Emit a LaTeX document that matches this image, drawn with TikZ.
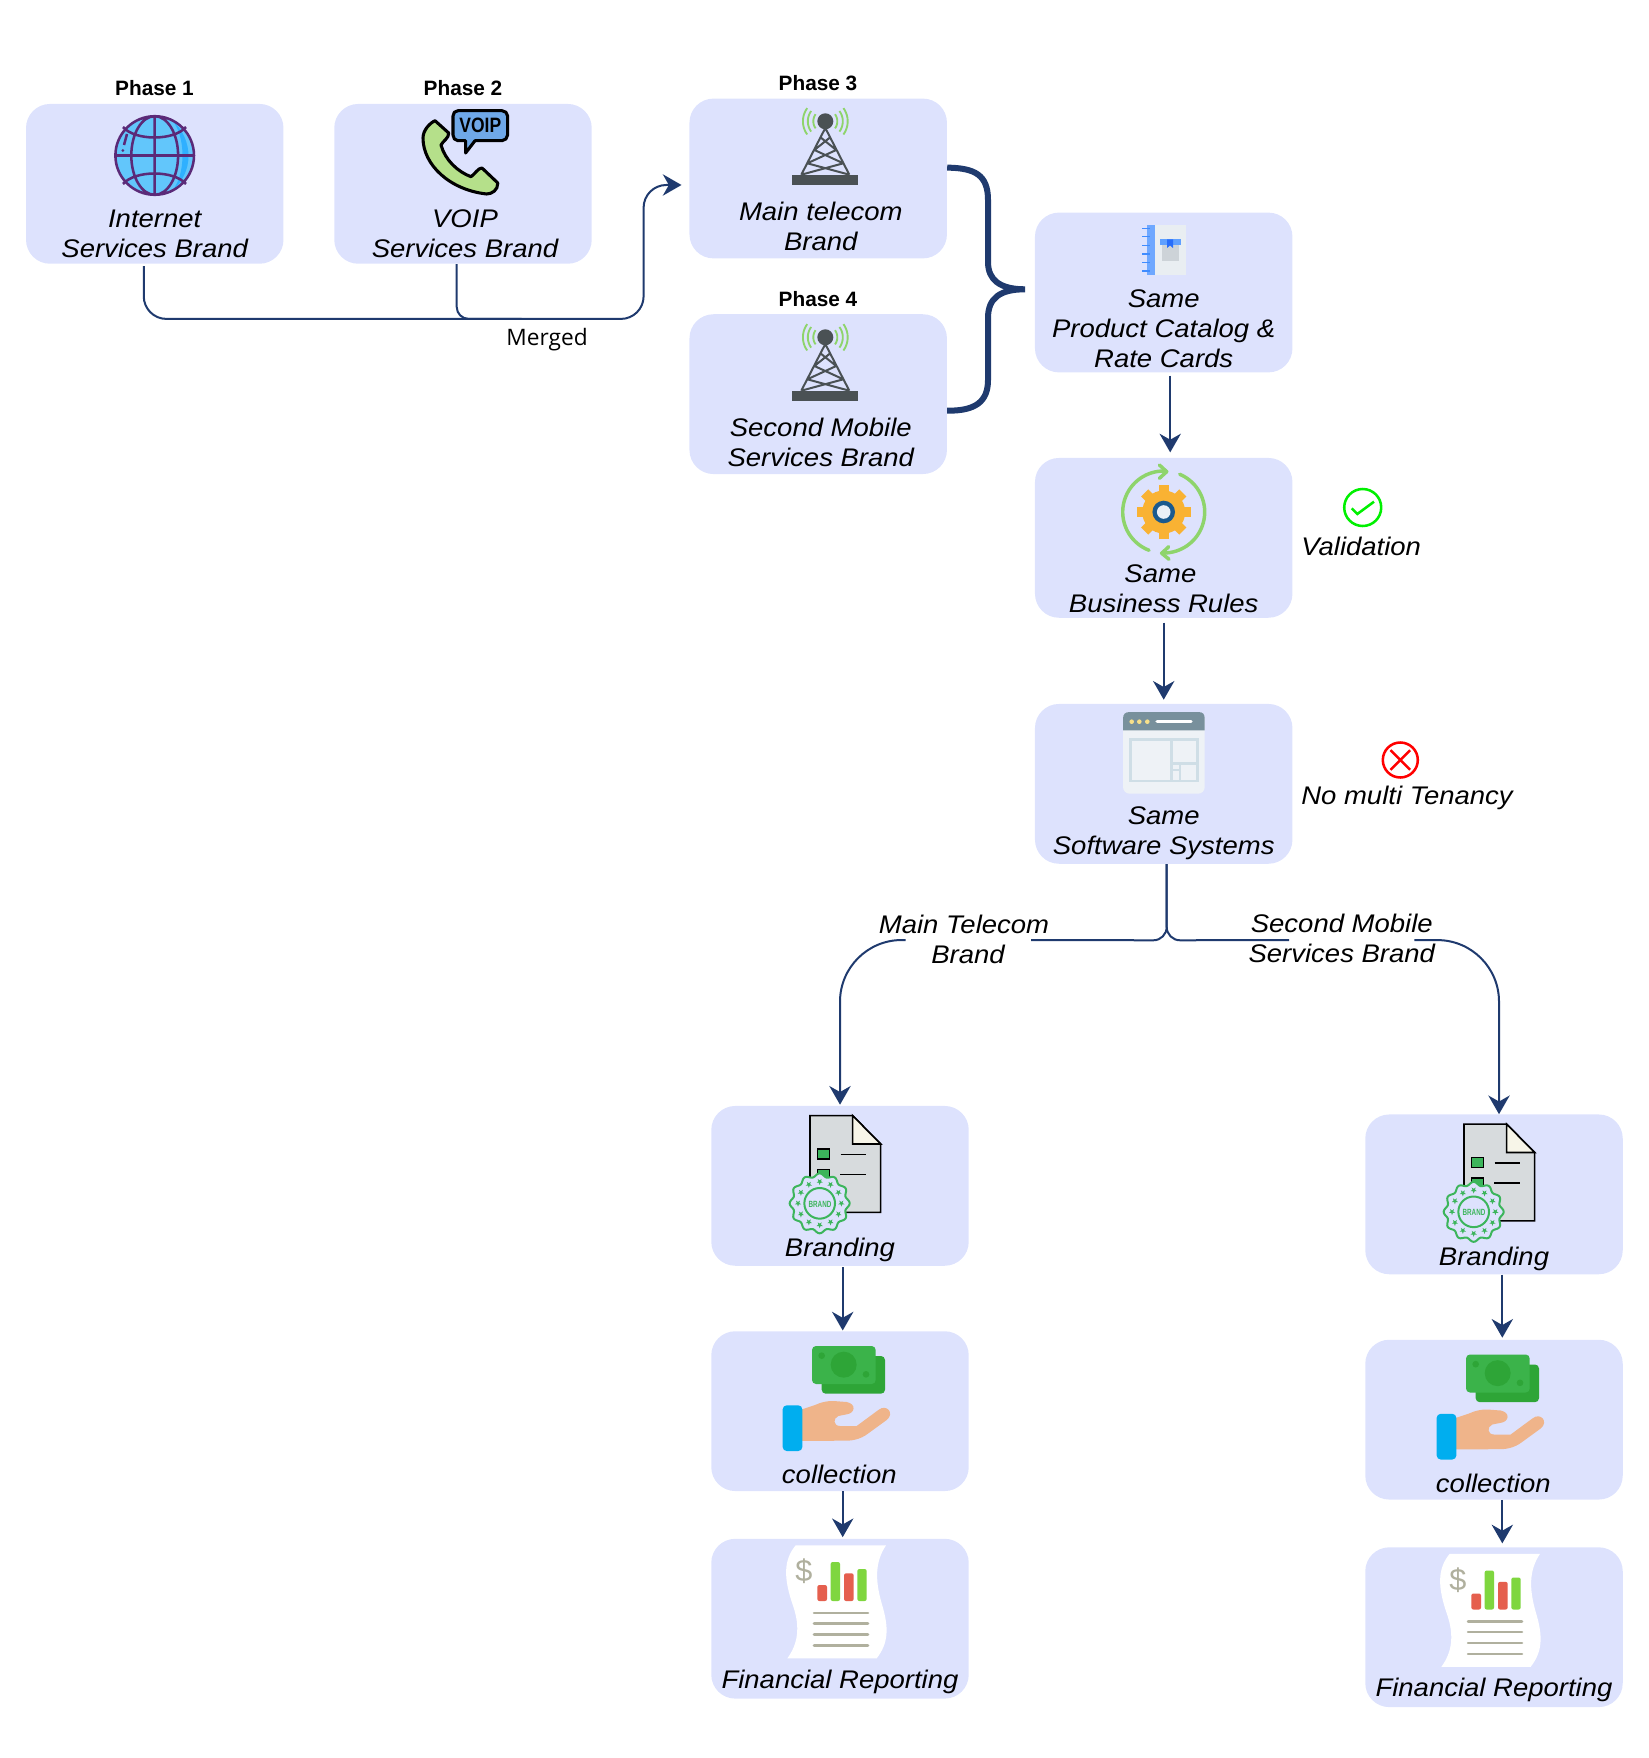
\documentclass[tikz,border=0pt]{standalone}
\usepackage{fontspec}
\usetikzlibrary{calc,arrows.meta}
\setmainfont{Liberation Sans}[FakeStretch=1.08]
\newfontfamily\phasef{Liberation Sans}
\newfontfamily\mergef{Open Sans}
\newfontfamily\brandf{Liberation Sans}[FakeStretch=0.7]
\newfontfamily\voipf{Liberation Sans}[FakeStretch=0.84]
\definecolor{boxc}{HTML}{DDE2FD}
\definecolor{linec}{HTML}{1F3A6E}
\definecolor{towerc}{HTML}{4A5154}
\definecolor{sigc}{HTML}{8ED46B}
\definecolor{stampc}{HTML}{3CB55B}
\definecolor{greyc}{HTML}{B0B09E}
\tikzset{
 box/.style={fill=boxc,rounded corners=18pt,minimum width=193.1pt,minimum height=119.85pt,inner sep=0pt},
 lab/.style={align=center,inner sep=0pt,font=\fontsize{19.1}{22.5}\selectfont\itshape,text=black},
 phase/.style={inner sep=0pt,font=\fontsize{15.6}{18}\phasef\bfseries},
 conn/.style={draw=linec,line width=1.5pt},
 arr/.style={conn,-{Stealth[length=14pt,width=16pt,inset=4.5pt]}},
 brace/.style={draw=linec,line width=4.5pt},
}
\newcommand\towericon[2]{%
 \begin{scope}[shift={(#1,#2)}]
  \fill[towerc] (-33,174.7) rectangle (33,185.3);
  \draw[towerc,line width=1.5pt] (0,128)--(-24,174.7) (0,128)--(24,174.7)
   (-4.4,137.7)--(10.9,150) (4.4,137.7)--(-10.9,150)
   (-10.9,150)--(18,163.3) (10.9,150)--(-18,163.3)
   (-18,163.3)--(24,174.7) (18,163.3)--(-24,174.7);
  \fill[towerc] (0,121.3) circle (8);
  \foreach \r in {12,17.5,22.4}{
   \draw[sigc,line width=1.4pt,domain=-36:36,samples=12] plot ({\r*cos(\x)},{121.3+\r*sin(\x)});
   \draw[sigc,line width=1.4pt,domain=144:216,samples=12] plot ({\r*cos(\x)},{121.3+\r*sin(\x)});
  }
 \end{scope}}
\newcommand\brandicon[3]{%
 \begin{scope}[shift={(#1,#2)},scale=1/3]
  \draw[black,line width=1.2pt,fill={rgb,255:red,215;green,219;blue,221}] (330,77)--(458,77)--(542,162)--(542,367)--(330,367)--cycle;
  \draw[black,line width=1.2pt,fill={rgb,255:red,247;green,245;blue,232}] (458,77)--(458,162)--(542,162)--cycle;
  \draw[black,line width=1.1pt,fill=stampc] (353,177) rectangle (388,207);
  \draw[black,line width=1.1pt,fill=stampc] (353,238) rectangle (388,268);
  \draw[black,line width=1.1pt] (422,194)--(497,194) (420,253)--(498,253);
  \draw[stampc,line width=1.5pt,fill=boxc,domain=0:360,samples=121] plot ({359+(85+5*cos(12*\x))*cos(\x)},{340+(85+5*cos(12*\x))*sin(\x)})--cycle;
  \draw[stampc,line width=1.5pt] (359,340) circle (46);
  \foreach \a in {0,30,...,330}{
   \begin{scope}[shift={({359+65*cos(\a)},{340+65*sin(\a)})}]
    \fill[stampc] (90:10)--(126:4)--(162:10)--(198:4)--(234:10)--(270:4)--(306:10)--(342:4)--(18:10)--(54:4)--cycle;
   \end{scope}}
  \node[inner sep=0pt,text=stampc,font=\fontsize{6.75}{8}\brandf\bfseries] (#3) at (360,342) {BRAND};
  % money
  \fill[rounded corners=3pt,fill={rgb,255:red,46;green,165;blue,55}] (365,798) rectangle (555,911);
  \fill[rounded corners=3pt,fill={rgb,255:red,59;green,179;blue,74}] (336,768) rectangle (527,882);
  \fill[fill={rgb,255:red,46;green,165;blue,55}] (431,824) circle (39) (365,797) circle (10) (498,853) circle (10);
  \fill[fill={rgb,255:red,239;green,180;blue,138}] (300,960)--(345,945) .. controls (365,936) and (380,933) .. (400,933) -- (440,936) .. controls (470,942) and (465,970) .. (440,973) -- (415,978) .. controls (398,985) and (400,1008) .. (420,1008) -- (470,1008) -- (535,960) .. controls (560,940) and (585,970) .. (560,990) -- (505,1030) .. controls (480,1050) and (450,1053) .. (430,1052) -- (300,1053)--cycle;
  \fill[rounded corners=3pt,fill={rgb,255:red,0;green,174;blue,239}] (248,946) rectangle (307,1083);
 \end{scope}}
\newcommand\reporticon[3]{%
 \begin{scope}[shift={(#1,#2)},scale=1/3]
  \fill[white] (287,136)--(558,136) .. controls (525,185) and (525,240) .. (545,310) .. controls (568,385) and (565,430) .. (530,475) -- (262,475) .. controls (295,430) and (300,380) .. (280,320) .. controls (250,235) and (250,180) .. (287,136)--cycle;
  \node[inner sep=0pt,text=greyc,font=\fontsize{23}{26}\phasef] (#3) at (312,214) {\$};
  \fill[rounded corners=1.5pt,fill={rgb,255:red,229;green,95;blue,78}] (352,255) rectangle (381,303) (432,220) rectangle (461,303);
  \fill[rounded corners=1.5pt,fill={rgb,255:red,127;green,214;blue,63}] (392,186) rectangle (420,303) (472,207) rectangle (500,303);
  \draw[greyc,line width=1.9pt,line cap=round] (342,339)--(504,339) (342,371)--(504,371) (342,404)--(504,404) (342,436)--(504,436);
 \end{scope}}
\begin{document}
\begin{tikzpicture}[x=0.75pt,y=-0.75pt]
\useasboundingbox (0,0) rectangle (1648,1758);
% boxes
\node[box] (b1) at (154.75,183.85) {};
\node[box] (b2) at (463,183.85) {};
\node[box] (b3) at (818.2,178.5) {};
\node[box] (b4) at (818.2,394.15) {};
\node[box] (b5) at (1163.7,292.5) {};
\node[box] (b6) at (1163.7,537.85) {};
\node[box] (b7) at (1163.7,783.85) {};
\node[box] (b8) at (840,1185.85) {};
\node[box] (b9) at (840,1411.15) {};
\node[box] (b10) at (840,1618.7) {};
\node[box] (r8) at (1494,1194.35) {};
\node[box] (r9) at (1494,1419.65) {};
\node[box] (r10) at (1494,1627.2) {};
% phases
\node[phase] (p1) at (154.5,88.3) {Phase 1};
\node[phase] (p2) at (463,88.3) {Phase 2};
\node[phase] (p3) at (818,83.3) {Phase 3};
\node[phase] (p4) at (818,299.3) {Phase 4};
% box labels
\node[lab] (t1) at (154.7,233.5) {Internet\\Services Brand};
\node[lab] (t2) at (465,233.5) {VOIP\\Services Brand};
\node[lab] (t3) at (820.8,226.7) {Main telecom\\Brand};
\node[lab] (t4) at (820.8,442.5) {Second Mobile\\Services Brand};
\node[lab] (t5) at (1163.7,328.3) {Same\\Product Catalog \&\\Rate Cards};
\node[lab] (t6) at (1163.7,588.3) {Same\kern5pt\\Business Rules};
\node[lab] (t7) at (1163.7,833) {Same\\Software Systems};
\node[lab] (t8) at (840,1250.4) {Branding};
\node[lab] (t9) at (839.3,1474.5) {collection};
\node[lab] (t10) at (840,1681.5) {Financial Reporting};
\node[lab] (u8) at (1494,1258.9) {Branding};
\node[lab] (u9) at (1493.3,1483) {collection};
\node[lab] (u10) at (1494,1690) {Financial Reporting};
\node[lab,anchor=west] (val) at (1301,546) {Validation};
\node[lab,anchor=west] (ten) at (1301,797.7) {No multi Tenancy};
\node[inner sep=0pt,font=\fontsize{17}{20}\mergef] (mg) at (547,340) {Merged};
% connectors
\coordinate (s1) at ($(b1.south)+(-11,2)$);
\coordinate (s2) at ($(b2.south)+(-6.3,0)$);
\coordinate (lev) at ($(b1.south)+(0,54.9)$);
\coordinate (a3) at ($(b3.west)+(-7.7,6.5)$);
\coordinate (vx) at ($(b3.west)+(-45.6,6.5)$);
\coordinate (me) at ($(s2|-lev)+(65,0)$);
\draw[arr,rounded corners=17pt] (s1) -- (s1|-lev) -- (vx|-lev) -- (vx) -- (a3);
\draw[conn,rounded corners=9pt] (s2) -- (s2|-lev) -- (me);
\coordinate (c3) at ($(b3.north east)+(0,69.3)$);
\coordinate (c4) at ($(b4.north east)+(0,96.7)$);
\coordinate (cm) at ($(b5.west)+(-9.7,-3.2)$);
\draw[brace] (c3) .. controls (975,168) and (988,175) .. (988,200) -- (988,262) .. controls (988,280) and (1000,289.3) .. (cm) .. controls (1000,289.3) and (988,298) .. (988,318) -- (988,380) .. controls (988,402) and (975,411) .. (c4);
\draw[arr] ($(b5.south)+(6.5,3)$) -- ($(b6.north)+(6.5,-5.3)$);
\draw[arr] ($(b6.south)+(0,4.6)$) -- ($(b7.north)+(0,-4)$);
\coordinate (s7) at ($(b7.south)+(3,0)$);
\coordinate (spl) at ($(b7.south)+(3,76.3)$);
\coordinate (eb) at ($(b8.north)+(0,-1)$);
\coordinate (er) at ($(r8.north)+(5,0)$);
\coordinate (gl1) at (1031,940);
\coordinate (gl2) at (905.6,940);
\coordinate (gr1) at (1289,940);
\coordinate (gr2) at (1414.3,940);
\draw[conn,rounded corners=10pt] (s7) -- (spl) -- (gl1);
\draw[conn,rounded corners=10pt] (s7) -- (spl) -- (gr1);
\draw[arr,rounded corners=46pt] (gl2) -- (eb|-spl) -- (eb);
\draw[arr,rounded corners=46pt] (gr2) -- (er|-spl) -- (er);
\node[lab] (lm) at (964,939) {Main Telecom\\\kern6pt Brand};
\node[lab] (lr) at (1341.8,938.5) {Second Mobile\\Services Brand};
\draw[arr] ($(b8.south)+(2.7,1)$) -- ($(b9.north)+(2.7,-0.5)$);
\draw[arr] ($(b9.south)+(2.7,0)$) -- ($(b10.north)+(2.7,-1.4)$);
\draw[arr] ($(r8.south)+(8.3,0)$) -- ($(r9.north)+(8.3,-1.8)$);
\draw[arr] ($(r9.south)+(8.3,0)$) -- ($(r10.north)+(8.3,-3.7)$);
% globe
\fill[fill={rgb,255:red,98;green,198;blue,251}] (154.7,155.5) circle (39.3);
\fill[fill={rgb,255:red,47;green,176;blue,255}] (172,120) .. controls (194,140) and (194,172) .. (172,191) .. controls (186,175) and (186,136) .. (172,120)--cycle;
\draw[draw={rgb,255:red,91;green,42;blue,120},line width=1.9pt] (154.7,155.5) circle (39.3)
 (154.7,116.2)--(154.7,194.8) (115.4,155.5)--(194,155.5)
 (154.7,155.5) ellipse (23.4 and 39.3)
 (123,127) .. controls (135,141) and (174,141) .. (186,127)
 (123,184) .. controls (135,170) and (174,170) .. (186,184)
 (127,134)--(124,145);
\fill[fill={rgb,255:red,91;green,42;blue,120}] (122.8,150.5) circle (1.5);
% phone
\draw[black,line width=2.3pt,line join=round,fill={rgb,255:red,181;green,224;blue,138}] (435,120.7) -- (448.7,133) .. controls (449,138) and (443,141) .. (441,145) .. controls (445,160) and (458,172) .. (471,176.7) .. controls (475,174) and (478,168) .. (482,168) -- (497.8,183) .. controls (498,190) and (492,194) .. (486.6,194) .. controls (450,190) and (423,165) .. (423,138) .. controls (423,130) and (430,123) .. (435,120.7)--cycle;
\draw[black,line width=2.3pt,line join=round,fill={rgb,255:red,111;green,168;blue,232}] (458,110.7) -- (502,110.7) .. controls (505,110.7) and (507.6,113) .. (507.6,116) -- (507.6,135) .. controls (507.6,138) and (505,140.7) .. (502,140.7) -- (475,140.7) -- (465.6,153) -- (465.6,140.7) -- (458,140.7) .. controls (455,140.7) and (453,138) .. (453,135) -- (453,116) .. controls (453,113) and (455,110.7) .. (458,110.7)--cycle;
\node[inner sep=0pt,font=\fontsize{15.6}{18}\voipf\bfseries] (voip) at (480.3,125.5) {VOIP};
% towers
\towericon{825.3}{0}
\towericon{825.3}{216}
% catalog
\fill[fill={rgb,255:red,233;green,238;blue,242}] (1155,225) rectangle (1186,275);
\fill[fill={rgb,255:red,111;green,168;blue,255}] (1146.5,225) rectangle (1155,275);
\foreach \yy in {228.3,236.7,245.7,254,262.3,271}{\draw[draw={rgb,255:red,64;green,140;blue,255},line width=1pt] (1142,\yy)--(1150,\yy);}
\fill[fill={rgb,255:red,205;green,211;blue,216}] (1161.6,243) rectangle (1178.8,260.7);
\fill[fill={rgb,255:red,95;green,160;blue,255}] (1159.6,239.3) rectangle (1180.8,245);
\fill[fill={rgb,255:red,40;green,110;blue,250}] (1167,239.3)--(1173,239.3)--(1173,248)--(1170,245.5)--(1167,248)--cycle;
% gear
\begin{scope}[shift={(1163.7,512)}]
 \foreach \a in {0,45,...,315}{\begin{scope}[rotate=\a]\fill[fill={rgb,255:red,249;green,178;blue,51}] (-5,-27) rectangle (5,-18);\end{scope}}
 \fill[fill={rgb,255:red,249;green,178;blue,51}] (0,0) circle (21.5);
 \fill[fill={rgb,255:red,26;green,90;blue,142}] (0,0) circle (11.3);
 \fill[fill={rgb,255:red,234;green,240;blue,246}] (0,0) circle (6.8);
 \draw[sigc,line width=2.6pt,line cap=round,line join=round,domain=111:274,samples=40] plot ({41*cos(\x)},{41*sin(\x)});
 \draw[sigc,line width=2.6pt,line cap=round,line join=round,domain=-67:93,samples=40] plot ({41*cos(\x)},{41*sin(\x)});
 \draw[sigc,line width=2.6pt,line cap=round,line join=round] (-4.3,-47)--(3,-40.3)--(-4.3,-33.7) (5,34.7)--(-2,41.3)--(5.3,47.3);
\end{scope}
% window
\fill[rounded corners=5pt,fill={rgb,255:red,238;green,242;blue,246}] (1123,712) rectangle (1204.7,793.7);
\fill[fill={rgb,255:red,120;green,144;blue,156}] (1123,730.3) -- (1123,719) .. controls (1123,714) and (1125,712) .. (1130,712) -- (1198,712) .. controls (1203,712) and (1204.7,714) .. (1204.7,719) -- (1204.7,730.3) -- cycle;
\fill[fill={rgb,255:red,248;green,224;blue,138}] (1131.7,721.7) circle (2.3) (1139.3,721.7) circle (2.3) (1147.3,721.7) circle (2.3);
\draw[white,line width=2.3pt,line cap=round] (1157,721.7)--(1191,721.7);
\draw[draw={rgb,255:red,207;green,222;blue,230},line width=2pt] (1130.7,739.3) rectangle (1197.3,781) (1171.7,739.3)--(1171.7,781) (1171.7,763.3)--(1197.3,763.3) (1180,763.3)--(1180,781) (1171.7,770)--(1180,770);
% check and cross
\draw[draw={rgb,255:red,0;green,240;blue,0},line width=1.9pt] (1362.7,507.5) circle (18.5);
\draw[draw={rgb,255:red,0;green,240;blue,0},line width=1.9pt] (1351.7,508.3)--(1357.3,514)--(1374,501.7);
\draw[draw={rgb,255:red,255;green,0;blue,0},line width=1.9pt] (1400.3,760) circle (17.5) (1390.5,750.2)--(1410.1,769.8) (1390.5,769.8)--(1410.1,750.2);
% icons
\brandicon{700}{1090}{bd1}
\brandicon{1354}{1098.5}{bd2}
\reporticon{700}{1500}{ds1}
\reporticon{1354}{1508.5}{ds2}
\end{tikzpicture}
\end{document}
